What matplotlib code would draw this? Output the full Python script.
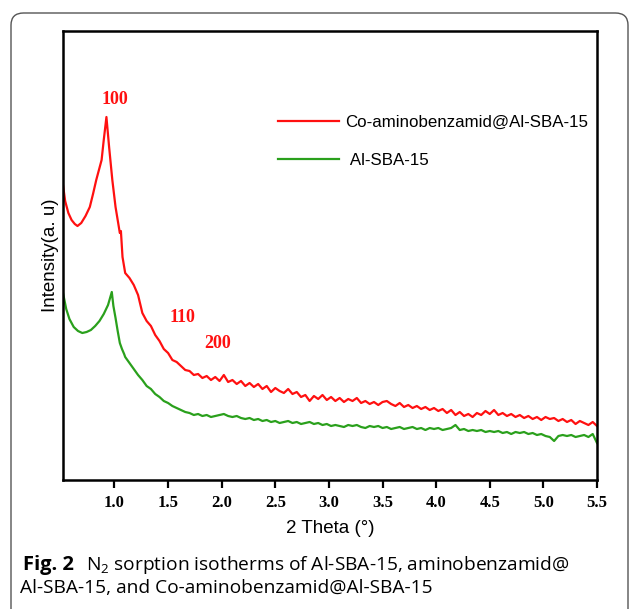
import numpy as np
import matplotlib
matplotlib.use('Agg')
import matplotlib.pyplot as plt
from matplotlib.patches import FancyBboxPatch

plt.rcParams['mathtext.fontset'] = 'custom'
plt.rcParams['mathtext.rm'] = 'Open Sans'

# ── Data (arbitrary intensity units) ──────────────────────────────────────────
red_head_x = [0.52, 0.54, 0.57, 0.60, 0.63, 0.655, 0.69, 0.73, 0.77, 0.80, 0.83,
              0.86, 0.88, 0.90, 0.925, 0.95, 0.98, 1.01, 1.03, 1.05, 1.06, 1.075, 1.09]
red_head_y = [296, 280, 268, 261, 257, 255, 258, 265, 274, 287, 301,
              313, 321, 341, 364, 334, 301, 274, 261, 248, 250, 224, 214]
red_tail_y = [208, 203, 196, 186, 168, 160, 155, 146, 140, 132, 128, 121, 119, 115,
              111, 110, 106, 107, 103, 105, 101, 104, 100, 106, 99, 101, 97, 100,
              95, 98, 94, 97, 92, 95, 89, 93, 90, 88, 92, 87, 89, 84, 86, 80,
              85, 82, 86, 81, 84, 80, 83, 79, 82, 80, 83, 78, 80, 77, 79, 76,
              79, 80, 77, 75, 78, 74, 76, 73, 75, 72, 74, 71, 73, 70, 72, 68,
              71, 66, 69, 65, 67, 64, 68, 66, 70, 67, 71, 66, 68, 65, 67, 64,
              66, 63, 65, 62, 64, 61, 64, 62, 63, 60, 62, 59, 61, 57, 60, 58,
              56, 59, 55]

green_head_x = [0.52, 0.55, 0.58, 0.62, 0.66, 0.70, 0.74, 0.78, 0.82, 0.86, 0.90,
                0.94, 0.975, 0.99, 1.01, 1.03, 1.05, 1.07, 1.09]
green_head_y = [188, 172, 162, 154, 150, 148, 149, 151, 155, 160, 167,
                176, 189, 175, 163, 150, 138, 132, 127]
green_tail_y = [124, 118, 112, 106, 101, 95, 92, 87, 84, 80, 78, 75, 73, 71,
                69, 68, 66, 67, 65, 66, 64, 65, 66, 67, 65, 64, 65, 63,
                62, 63, 61, 62, 60, 61, 59, 60, 58, 59, 60, 58, 59, 57, 58, 59,
                57, 58, 56, 57, 55, 56, 55, 54, 56, 55, 56, 54, 53, 55, 54, 55,
                53, 54, 52, 53, 54, 52, 53, 54, 52, 53, 51, 53, 52, 53, 51, 52,
                53, 56, 51, 52, 50, 51, 50, 51, 49, 50, 49, 50, 48, 49, 47, 49,
                48, 49, 47, 48, 46, 47, 45, 44, 40, 45, 46, 45, 46, 44, 45, 46,
                44, 47, 38]

labels = ['Co-aminobenzamid@Al-SBA-15', ' Al-SBA-15']
xticks = [1.0, 1.5, 2.0, 2.5, 3.0, 3.5, 4.0, 4.5, 5.0, 5.5]
peaks = [('100', 1.0, 381), ('110', 1.63, 164), ('200', 1.96, 138)]

red_x = red_head_x + list(np.linspace(1.10, 5.50, len(red_tail_y)))
red_y = red_head_y + red_tail_y
green_x = green_head_x + list(np.linspace(1.10, 5.50, len(green_tail_y)))
green_y = green_head_y + green_tail_y

# ── Figure ────────────────────────────────────────────────────────────────────
fig = plt.figure(figsize=(6.3, 6.09), dpi=100)
W, H = 630, 609
ax = fig.add_axes([63 / W, 1 - 480 / H, (597 - 63) / W, (480 - 31) / H])

ax.plot(red_x, red_y, color='#ff1010', lw=1.6, label=labels[0])
ax.plot(green_x, green_y, color='#2aa01c', lw=1.6, label=labels[1])

ax.set_xlim(0.52, 5.5)
ax.set_ylim(1, 450)
ax.set_yticks([])
ax.set_xticks(xticks)
ax.set_xticklabels([f'{t:.1f}' for t in xticks], family='Liberation Serif',
                   fontweight='bold', fontsize=12)
ax.tick_params(axis='x', direction='out', length=6, width=1.6, pad=5)
for s in ax.spines.values():
    s.set_linewidth(1.8)

for txt, px, py in peaks:
    ax.text(px, py, txt, color='#ff1010', family='Liberation Serif',
            fontweight='bold', fontsize=13, ha='center', va='center')

ax.set_ylabel('Intensity(a. u)', family='Liberation Sans', fontsize=13.5, labelpad=3)
ax.set_xlabel('2 Theta (°)', family='Liberation Sans', fontsize=13.5, labelpad=6)

ax.legend(loc='upper left', bbox_to_anchor=(0.38, 0.84), frameon=False,
          prop={'family': 'Liberation Sans', 'size': 12.2}, handlelength=3.6,
          handletextpad=0.4, labelspacing=1.4, borderpad=0.2)

# rounded frame around figure + caption
frame = FancyBboxPatch((11 / W, -0.05), (628 - 11) / W, 0.05 + 1 - 13 / H,
                       boxstyle='round,pad=0,rounding_size=0.02',
                       transform=fig.transFigure, fill=False,
                       edgecolor='#555555', lw=1.0)
fig.patches.append(frame)

fig.text(23 / W, 1 - 565 / H, 'Fig. 2', family='Open Sans', fontweight='bold',
         fontsize=14.5, va='center')
fig.text(86 / W, 1 - 565 / H,
         r'N$_\mathrm{2}$ sorption isotherms of Al-SBA-15, aminobenzamid@',
         family='Open Sans', fontsize=13.8, va='center')
fig.text(20 / W, 1 - 588 / H, 'Al-SBA-15, and Co-aminobenzamid@Al-SBA-15',
         family='Open Sans', fontsize=13.8, va='center')

fig.savefig('out.png', dpi=100)
